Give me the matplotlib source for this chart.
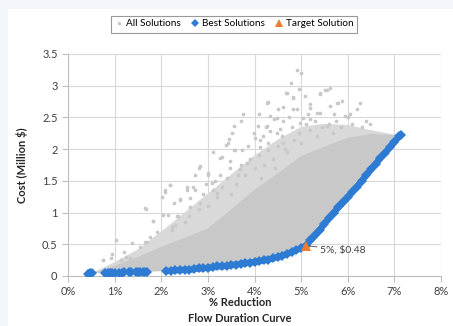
import matplotlib.pyplot as plt
import matplotlib.patches as mpatches
from matplotlib.lines import Line2D
import numpy as np

plt.rcParams['font.family'] = ['Lato', 'DejaVu Sans']

# best (frontier) solutions, % reduction vs cost (million $)
best_x = [0.42, 0.45, 0.48, 0.52,
          0.80, 0.85, 0.90, 0.95, 1.00, 1.10, 1.15, 1.20, 1.30, 1.35, 1.45, 1.50, 1.55, 1.60, 1.65, 1.70,
          2.10, 2.20, 2.30, 2.40, 2.50, 2.60, 2.70, 2.80, 2.90, 3.00, 3.10, 3.20, 3.30, 3.40, 3.50,
          3.60, 3.70, 3.80, 3.90, 4.00, 4.10, 4.20, 4.30, 4.40, 4.50, 4.60, 4.70, 4.80, 4.90, 5.00, 5.10,
          5.20, 5.30, 5.40, 5.50, 5.60, 5.70, 5.80, 5.90, 6.00, 6.10, 6.20, 6.30, 6.40, 6.50, 6.60,
          6.70, 6.80, 6.90, 7.00, 7.10, 7.15]
best_y = [0.03, 0.03, 0.04, 0.04,
          0.05, 0.05, 0.05, 0.05, 0.05, 0.05, 0.05, 0.06, 0.06, 0.06, 0.06, 0.06, 0.07, 0.07, 0.07, 0.07,
          0.08, 0.08, 0.09, 0.09, 0.10, 0.10, 0.11, 0.12, 0.12, 0.13, 0.14, 0.15, 0.15, 0.16, 0.17,
          0.18, 0.19, 0.20, 0.21, 0.22, 0.23, 0.25, 0.26, 0.28, 0.30, 0.32, 0.35, 0.38, 0.41, 0.44, 0.48,
          0.56, 0.64, 0.73, 0.82, 0.91, 1.00, 1.08, 1.16, 1.24, 1.33, 1.41, 1.50, 1.59, 1.68, 1.77,
          1.86, 1.94, 2.03, 2.11, 2.20, 2.23]

# upper edge of the solid part of the cloud of all solutions
dense_x = [0.55, 0.8, 1.0, 1.5, 2.0, 2.5, 3.0, 3.5, 4.0, 4.5, 5.0, 5.5, 6.0, 6.5, 7.0, 7.15]
dense_top = [0.05, 0.12, 0.16, 0.30, 0.46, 0.60, 0.75, 1.05, 1.36, 1.62, 1.89, 2.04, 2.18, 2.24, 2.22, 2.23]

# upper edge of the speckled part of the cloud
semi_x = [0.55, 1.0, 1.5, 2.0, 2.5, 3.0, 3.5, 4.0, 4.5, 5.0, 5.5, 6.0, 6.5, 7.0, 7.15]
semi_top = [0.06, 0.22, 0.42, 0.70, 1.00, 1.30, 1.60, 1.90, 2.15, 2.35, 2.40, 2.38, 2.30, 2.23, 2.23]

# scattered solutions above the cloud
gray_x = [2.18, 2.07, 1.68, 1.82, 2.04, 2.15, 2.27, 2.40, 1.02, 1.37, 1.66, 0.75, 0.93, 1.14, 1.25, 1.32,
          2.29, 2.22, 4.28, 3.76, 4.10, 3.71, 3.56, 3.51, 3.46, 3.39, 3.55, 3.73, 3.10, 3.30, 2.83, 2.73,
          3.01, 3.48, 2.55, 2.73, 3.15, 4.08, 4.19, 4.33, 4.48, 4.01, 4.12, 4.30, 2.62, 4.92, 5.00, 4.78,
          4.96, 4.68, 4.83, 5.09, 5.41, 5.52, 5.62, 5.87, 5.80, 6.27, 6.20, 5.19, 5.18, 4.61, 4.51, 5.62,
          6.05, 5.94, 4.48, 4.33, 6.48, 4.91, 5.41, 4.61, 5.05, 0.76,
          2.90, 3.00, 3.20, 3.30, 3.40, 3.60, 3.70, 3.80, 3.90, 4.00, 4.10, 4.20, 4.30, 4.40, 4.50, 4.60,
          4.70, 4.80, 4.85, 4.95, 5.10, 5.20, 5.30, 5.45, 5.60, 5.75, 5.85, 6.10, 6.30, 2.60, 2.80, 2.50,
          2.35, 1.90, 1.75, 1.55, 1.20, 0.95, 3.10, 3.50, 3.65, 4.15, 4.45, 4.65, 5.00, 5.35, 2.95, 3.25,
          3.85, 4.25, 4.75, 5.15, 5.70, 6.00, 6.40,
          1.65, 1.83, 2.01, 2.19, 2.08, 2.40, 2.55, 2.69, 2.80, 3.01, 3.26, 3.44, 4.26, 4.69, 4.83, 5.41,
          5.55, 5.77, 1.69, 2.22, 2.33, 2.62, 2.83, 3.08, 3.19, 3.48, 3.58, 3.69, 3.83, 3.98, 4.12, 4.26,
          4.41, 4.55, 4.62, 4.83, 4.98, 5.19, 5.34, 5.55, 5.69]
gray_y = [1.44, 1.33, 1.05, 0.86, 0.96, 0.96, 1.15, 1.21, 0.57, 0.52, 0.54, 0.26, 0.28, 0.26, 0.30, 0.29,
          0.80, 0.72, 2.74, 2.56, 2.55, 2.44, 2.36, 2.26, 2.16, 2.07, 1.99, 1.99, 1.96, 1.88, 1.73, 1.60,
          1.62, 1.70, 1.41, 1.36, 1.49, 2.36, 2.20, 2.28, 2.26, 2.18, 2.04, 1.99, 1.23, 3.24, 3.20, 3.05,
          2.95, 2.89, 2.82, 2.84, 2.87, 2.94, 2.96, 2.76, 2.73, 2.73, 2.63, 2.71, 2.65, 2.66, 2.63, 2.68,
          2.55, 2.52, 2.49, 2.52, 2.39, 2.63, 2.57, 2.44, 2.49, 0.25,
          1.30, 1.10, 1.25, 1.40, 1.55, 1.45, 1.75, 1.60, 1.85, 1.70, 1.90, 1.75, 2.10, 1.85, 2.05, 2.20,
          1.95, 2.35, 2.15, 2.25, 2.40, 2.30, 2.45, 2.35, 2.40, 2.45, 2.35, 2.40, 2.35, 0.95, 1.05, 0.85,
          0.95, 0.70, 0.62, 0.45, 0.38, 0.35, 1.35, 1.30, 1.60, 1.55, 1.70, 2.00, 2.10, 2.20, 1.45, 1.60,
          2.05, 2.35, 2.50, 2.55, 2.55, 2.50, 2.45,
          1.07, 0.86, 1.25, 1.44, 1.36, 1.20, 1.36, 1.41, 1.70, 1.60, 1.86, 2.10, 2.73, 2.89, 2.81, 2.89,
          2.94, 2.73, 0.54, 0.78, 0.94, 1.09, 1.15, 1.46, 1.31, 1.81, 1.99, 1.68, 1.78, 2.26, 2.15, 2.36,
          2.47, 2.31, 2.10, 2.63, 2.42, 2.47, 2.57, 2.36, 2.26]

target_x = 5.1
target_y = 0.48

x_ticks = [0, 1, 2, 3, 4, 5, 6, 7, 8]
y_ticks = [0, 0.5, 1, 1.5, 2, 2.5, 3, 3.5]

gray = '#c8c8c8'
blue = '#2e7bd3'
orange = '#ed7d31'

fig = plt.figure(figsize=(4.53, 3.26), dpi=100, facecolor='#f3f6fa')
fig.patches.append(mpatches.Rectangle((8 / 453, 0), 1, 1 - 9 / 326, transform=fig.transFigure,
                                      facecolor='white', edgecolor='none', zorder=-5))
ax = fig.add_axes([68 / 453, 1 - 276 / 326, 373 / 453, 222 / 326])
ax.set_zorder(2)


def cloud(top_x, top_y):
    # polygon: upper edge, then back along the frontier
    back = [(x, y) for x, y in zip(best_x[::-1], best_y[::-1]) if x >= top_x[0]]
    return list(top_x) + [p[0] for p in back], list(top_y) + [p[1] for p in back]


px, py = cloud(semi_x, semi_top)
ax.fill(px, py, color='#d9d9d9', lw=0, zorder=2)
px, py = cloud(dense_x, dense_top)
ax.fill(px, py, color=gray, lw=0, zorder=2)
ax.scatter(gray_x, gray_y, s=7, color=gray, lw=0, zorder=2)

ax.plot(best_x, best_y, color=blue, lw=0, marker='D', ms=5, mew=0, zorder=3)
seg = [i for i, x in enumerate(best_x) if x >= 2.1]
ax.plot([best_x[i] for i in seg], [best_y[i] for i in seg], color=blue, lw=4.5, zorder=3,
        solid_capstyle='butt')
ax.plot([target_x], [target_y], marker='^', color=orange, ms=7, mew=0, lw=0, zorder=4)
ax.annotate('5%, \\$0.48', xy=(target_x, target_y), xytext=(target_x + 0.3, target_y - 0.07),
            fontsize=7.5, color='#404040', va='center',
            arrowprops=dict(arrowstyle='-', color='#606060', lw=0.7, shrinkA=0, shrinkB=1))

ax.set_xlim(0, 8)
ax.set_ylim(0, 3.5)
ax.set_xticks(x_ticks)
ax.set_xticklabels([f'{t}%' for t in x_ticks])
ax.set_yticks(y_ticks)
ax.set_yticklabels(['0', '0.5', '1', '1.5', '2', '2.5', '3', '3.5'])
ax.grid(True, color='#d9d9d9', lw=0.8, zorder=0)
ax.set_axisbelow(True)
for s in ['top', 'right']:
    ax.spines[s].set_visible(False)
for s in ['left', 'bottom']:
    ax.spines[s].set_color('#bfbfbf')
ax.tick_params(colors='#bfbfbf', labelcolor='#404040', labelsize=8, length=4, width=0.8)

ax.set_ylabel('Cost (Million $)', fontsize=8, fontweight='bold', color='#262626', labelpad=10)
fig.text(240 / 453, 1 - 303 / 326, '% Reduction', ha='center', va='center', fontsize=8,
         fontweight='bold', color='#262626')
fig.text(240 / 453, 1 - 319 / 326, 'Flow Duration Curve', ha='center', va='center', fontsize=8,
         fontweight='bold', color='#262626')

handles = [Line2D([], [], lw=0, marker='o', ms=2.5, color=gray, mew=0),
           Line2D([], [], lw=0, marker='D', ms=4, color=blue, mew=0),
           Line2D([], [], lw=0, marker='^', ms=5.5, color=orange, mew=0)]
leg = fig.legend(handles, ['All Solutions', 'Best Solutions', 'Target Solution'], ncol=3,
                 loc='center', bbox_to_anchor=(234 / 453, 1 - 24 / 326), fontsize=7.2,
                 frameon=True, fancybox=False, handlelength=0.8, handletextpad=0.3,
                 columnspacing=1.0, borderpad=0.4)
leg.get_frame().set_edgecolor('#808080')
leg.get_frame().set_linewidth(0.8)

fig.savefig('out.png', dpi=100, facecolor=fig.get_facecolor())
